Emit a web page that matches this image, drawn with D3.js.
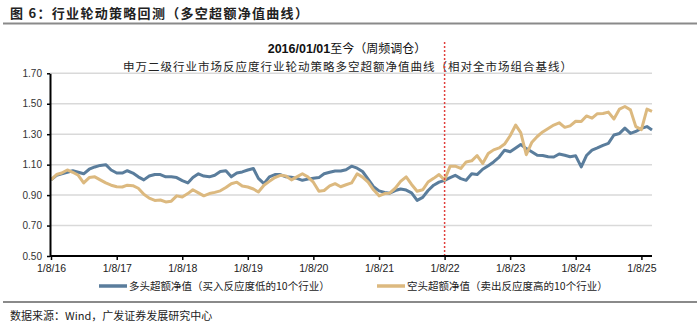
<!DOCTYPE html>
<html><head><meta charset="utf-8">
<script src="https://cdn.jsdelivr.net/npm/d3@7"></script>
<style>
html,body{margin:0;padding:0;background:#fff;}
svg{display:block;}
</style></head>
<body>
<svg id="c" width="700" height="328"></svg>
<script>
// ---- data (monthly samples) ----
const dates = d3.range(0, 111).map(m => {
  const y = 2016 + Math.floor(m / 12), mo = (m % 12) + 1;
  return `${y}-${String(mo).padStart(2,"0")}-08`;
});
const longSeries = [
1.00,1.03,1.04,1.05,1.06,1.05,1.04,1.07,1.085,1.095,
1.10,1.065,1.045,1.045,1.06,1.045,1.02,1.00,1.025,1.035,
1.035,1.02,1.02,1.015,0.995,0.98,1.015,1.04,1.025,1.02,
1.03,1.055,1.06,1.02,1.045,1.052,1.065,1.075,1.01,0.975,
1.02,1.035,1.035,1.02,1.017,1.01,0.997,1.005,1.01,1.015,
1.04,1.05,1.058,1.058,1.067,1.09,1.077,1.055,1.005,0.955,
0.928,0.918,0.912,0.93,0.94,0.933,0.915,0.865,0.885,0.93,
0.965,0.985,0.997,1.015,1.03,1.008,0.997,1.04,1.035,1.07,
1.093,1.118,1.15,1.195,1.185,1.21,1.232,1.205,1.185,1.162,
1.16,1.152,1.15,1.17,1.162,1.152,1.158,1.085,1.16,1.195,
1.21,1.227,1.24,1.295,1.305,1.34,1.305,1.318,1.338,1.35,
1.328];
const shortSeries = [
1.00,1.035,1.045,1.065,1.05,1.03,0.98,1.015,1.02,1.00,
0.98,0.965,0.955,0.953,0.965,0.962,0.945,0.905,0.88,0.865,
0.868,0.855,0.86,0.895,0.888,0.91,0.935,0.915,0.895,0.91,
0.918,0.928,0.95,0.975,0.985,0.96,0.953,0.94,0.92,0.965,
0.99,1.015,1.03,1.025,1.00,1.02,1.04,1.02,0.985,0.925,
0.93,0.96,0.975,0.955,0.968,0.98,1.04,1.018,0.985,0.935,
0.895,0.91,0.913,0.945,0.99,1.02,0.97,0.925,0.935,0.986,
1.01,1.035,1.00,1.09,1.09,1.075,1.118,1.125,1.16,1.108,
1.173,1.197,1.21,1.235,1.29,1.36,1.31,1.165,1.245,1.285,
1.315,1.338,1.36,1.375,1.345,1.355,1.385,1.383,1.42,1.405,
1.435,1.436,1.445,1.40,1.465,1.482,1.46,1.35,1.33,1.465,
1.45];
const yTicks = [0.50,0.70,0.90,1.10,1.30,1.50,1.70];
const xTickDates = ["2016-01-08","2017-01-08","2018-01-08","2019-01-08","2020-01-08","2021-01-08","2022-01-08","2023-01-08","2024-01-08","2025-01-08"];
const markerDate = "2022-01-08";
const seriesNames = ["多头超额净值（买入反应度低的10个行业）","空头超额净值（卖出反应度高的10个行业）"];
const figTitle = "图 6：行业轮动策略回测（多空超额净值曲线）";
const subTitle1a = "2016/01/01", subTitle1b = "至今（周频调仓）";
const subTitle2 = "申万二级行业市场反应度行业轮动策略多空超额净值曲线（相对全市场组合基线）";
const sourceText = "数据来源：Wind，广发证券发展研究中心";

// ---- drawing ----
const parse = d3.timeParse("%Y-%m-%d");
const svg = d3.select("#c");
const cjk = "'Noto Sans CJK SC','Noto Sans',sans-serif";
const lat = "'Liberation Sans',Arial,sans-serif";
const blue = "#5a7d9c", gold = "#dcb97f";

const x = d3.scaleTime().domain([parse(dates[0]), parse(dates[dates.length-1])]).range([51, 652]);
const y = d3.scaleLinear().domain([0.5, 1.7]).range([256, 73.3]);

// figure title
svg.append("text").attr("x", 10).attr("y", 18).attr("font-family", cjk)
  .attr("font-size", 13).attr("font-weight", "bold").attr("letter-spacing", 1.3).attr("fill", "#222").text(figTitle);
svg.append("line").attr("x1", 3).attr("x2", 697).attr("y1", 23.5).attr("y2", 23.5)
  .attr("stroke", "#8a8a8a").attr("stroke-width", 1.8);

// gridlines
svg.append("g").selectAll("line").data(yTicks.filter(d => d > 0.5)).join("line")
  .attr("x1", 50).attr("x2", 652).attr("y1", d => y(d)).attr("y2", d => y(d))
  .attr("stroke", "#d9d9d9").attr("stroke-width", 1.5);

// subtitles
const t1 = svg.append("text").attr("x", 347).attr("y", 53).attr("text-anchor", "middle").attr("fill", "#111");
t1.append("tspan").attr("font-family", lat).attr("font-weight", "bold").attr("font-size", 12.5).text(subTitle1a);
t1.append("tspan").attr("font-family", cjk).attr("font-size", 12).text(subTitle1b);
svg.append("text").attr("x", 348).attr("y", 71).attr("text-anchor", "middle").attr("font-family", cjk)
  .attr("font-size", 11.5).attr("letter-spacing", 1.0).attr("fill", "#222").text(subTitle2);

// lines
const line = d3.line().x((d, i) => x(parse(dates[i]))).y(d => y(d));
svg.append("path").datum(longSeries).attr("d", line).attr("fill", "none")
  .attr("stroke", blue).attr("stroke-width", 3).attr("stroke-linejoin", "round");
svg.append("path").datum(shortSeries).attr("d", line).attr("fill", "none")
  .attr("stroke", gold).attr("stroke-width", 3).attr("stroke-linejoin", "round");

// red dotted marker
svg.append("line").attr("x1", x(parse(markerDate))).attr("x2", x(parse(markerDate)))
  .attr("y1", 42).attr("y2", 256).attr("stroke", "#e0403c").attr("stroke-width", 1.5)
  .attr("stroke-dasharray", "2,2");

// y axis
const yAxis = svg.append("g").attr("transform", "translate(50,0)")
  .call(d3.axisLeft(y).tickValues(yTicks).tickFormat(d3.format(".2f")).tickSize(3).tickSizeOuter(0));
yAxis.select(".domain").attr("stroke", "#000").attr("stroke-width", 2);
yAxis.selectAll(".tick line").attr("stroke", "#000").attr("stroke-width", 1.5);
yAxis.selectAll(".tick text").attr("font-family", lat).attr("font-size", 10).attr("fill", "#333").attr("x", -8);

// x axis
const xAxis = svg.append("g").attr("transform", "translate(0,256)")
  .call(d3.axisBottom(x).tickValues(xTickDates.map(parse)).tickFormat(d3.timeFormat("%-m/%-d/%y")).tickSize(4).tickSizeOuter(0));
xAxis.select(".domain").attr("stroke", "#000").attr("stroke-width", 2).attr("d", "M50,0H652");
xAxis.selectAll(".tick line").attr("stroke", "#000").attr("stroke-width", 1.5);
xAxis.selectAll(".tick text").attr("font-family", lat).attr("font-size", 10.5).attr("fill", "#222").attr("y", 9);

// legend
const legend = [{name: seriesNames[0], color: blue, x: 99}, {name: seriesNames[1], color: gold, x: 377}];
const lg = svg.append("g").selectAll("g").data(legend).join("g").attr("transform", d => `translate(${d.x},286)`);
lg.append("line").attr("x1", 0).attr("x2", 28).attr("stroke", d => d.color).attr("stroke-width", 3.5);
lg.append("text").attr("x", 30).attr("y", 4).attr("font-family", cjk).attr("font-size", 10.5)
  .attr("fill", "#222").text(d => d.name);

// bottom rule and source
svg.append("line").attr("x1", 3).attr("x2", 697).attr("y1", 302).attr("y2", 302)
  .attr("stroke", "#8a8a8a").attr("stroke-width", 1.8);
svg.append("text").attr("x", 10).attr("y", 320).attr("font-family", cjk).attr("font-size", 11)
  .attr("fill", "#222").text(sourceText);
</script>
</body></html>
